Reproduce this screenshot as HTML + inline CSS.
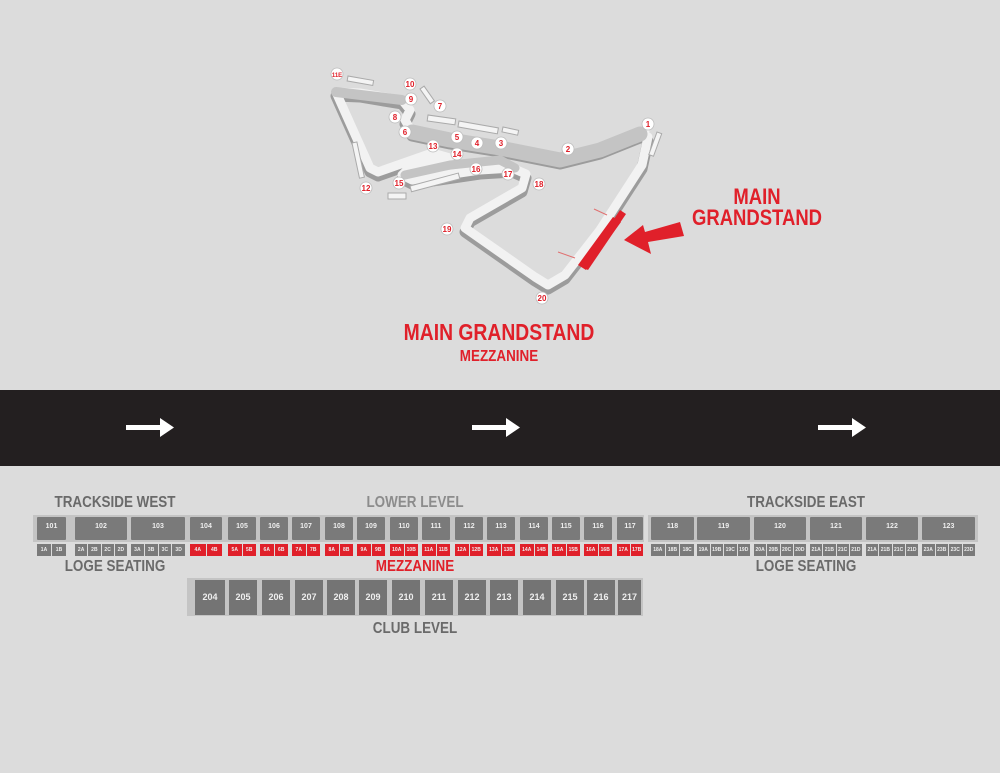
<!DOCTYPE html>
<html><head><meta charset="utf-8"><style>
*{margin:0;padding:0;box-sizing:border-box}
body{width:1000px;height:773px;background:#dcdcdc;position:relative;overflow:hidden;font-family:"Liberation Sans Narrow","Liberation Sans",sans-serif;font-weight:bold}
.a{position:absolute}
.t{position:absolute;white-space:nowrap;transform:translateX(-50%) scaleX(.84);text-align:center}
.b{position:absolute;background:#7a7a7a;color:#eee;font-size:7px;text-align:center;border-radius:1px}
.l{position:absolute;top:544px;height:12px;display:flex;gap:1px}
.l div{flex:1;background:#7a7a7a;color:#eee;font-size:5px;line-height:12px;text-align:center}
.l.r div{background:#e0202a}
.c{position:absolute;top:580px;height:35px;width:28px;background:#747474;color:#eee;font-size:9px;line-height:35px;text-align:center}
</style></head><body>
<svg class="a" style="left:0;top:0" width="1000" height="390">
<g fill="none" stroke-linejoin="round" stroke-linecap="round">
<path d="M648,137 L642,165 L600,230 L565,275 L548,285 L535,277 L465,228 L470,218 L522,188 L526,174 L512,168 L480,170 L412,180 L402,175 L410,167 L450,158 L432,153 L378,172 L370,168 L336,92 L360,93 L402,100 L410,110 L405,120 L412,132 L450,140 L500,148 L560,160 L600,150 L645,132" stroke="#9c9c9c" stroke-width="11" transform="translate(0,4)"/>
<path d="M648,137 L642,165 L600,230 L565,275 L548,285 L535,277 L465,228 L470,218 L522,188 L526,174 L512,168 L480,170 L412,180 L402,175 L410,167 L450,158 L432,153 L378,172 L370,168 L336,92 L360,93 L402,100 L410,110 L405,120 L412,132 L450,140 L500,148 L560,160 L600,150 L645,132" stroke="#f2f2f2" stroke-width="9"/>
<path d="M412,132 L450,140 L500,148 L560,160 L600,150 L640,134" stroke="#c4c4c4" stroke-width="15"/>
<path d="M336,92 L402,100" stroke="#c4c4c4" stroke-width="10"/>
<path d="M405,175 L450,165 L500,160 L515,168" stroke="#c4c4c4" stroke-width="9"/>
</g>
<g fill="#f4f4f4" stroke="#aaa" stroke-width="1">
<rect x="348" y="76" width="26" height="5" transform="rotate(10 348 76)"/>
<rect x="428" y="115" width="28" height="6" transform="rotate(8 428 115)"/>
<rect x="459" y="121" width="40" height="6" transform="rotate(10 459 121)"/>
<rect x="503" y="127" width="16" height="5" transform="rotate(12 503 127)"/>
<rect x="352" y="143" width="5" height="36" transform="rotate(-12 352 143)"/>
<rect x="388" y="193" width="18" height="6"/>
<rect x="410" y="186" width="50" height="6" transform="rotate(-15 410 186)"/>
<rect x="420" y="89" width="5" height="18" transform="rotate(-35 420 89)"/>
<rect x="657" y="132" width="5" height="24" transform="rotate(20 657 132)"/>
</g>
<polygon points="620,210 626,214 588,270 582,267" fill="#e0202a"/>
<polygon points="613,217 621,222 586,270 578,265" fill="#e0202a"/>
<line x1="594" y1="209" x2="607" y2="215" stroke="#e07070"/>
<line x1="558" y1="252" x2="575" y2="258" stroke="#e07070"/>
<polygon points="680,222 684,236 648,242 651,254 624,240 643,225 645,232" fill="#e0202a"/>
<g font-family="Liberation Sans" font-size="8" fill="#e0202a" text-anchor="middle" font-weight="bold">
<g fill="#fff" stroke="#bbb" stroke-width=".8">
<circle cx="337" cy="74" r="6"/><circle cx="410" cy="84" r="6"/><circle cx="411" cy="99" r="6"/><circle cx="440" cy="106" r="6"/><circle cx="395" cy="117" r="6"/><circle cx="405" cy="132" r="6"/><circle cx="457" cy="137" r="6"/><circle cx="477" cy="143" r="6"/><circle cx="501" cy="143" r="6"/><circle cx="568" cy="149" r="6"/><circle cx="648" cy="124" r="6"/><circle cx="433" cy="146" r="6"/><circle cx="457" cy="154" r="6"/><circle cx="476" cy="169" r="6"/><circle cx="508" cy="174" r="6"/><circle cx="539" cy="184" r="6"/><circle cx="399" cy="183" r="6"/><circle cx="366" cy="188" r="6"/><circle cx="447" cy="229" r="6"/><circle cx="542" cy="298" r="6"/>
</g>
<text x="337" y="77" font-size="6">11E</text><text x="410" y="87">10</text><text x="411" y="102">9</text><text x="440" y="109">7</text><text x="395" y="120">8</text><text x="405" y="135">6</text><text x="457" y="140">5</text><text x="477" y="146">4</text><text x="501" y="146">3</text><text x="568" y="152">2</text><text x="648" y="127">1</text><text x="433" y="149">13</text><text x="457" y="157">14</text><text x="476" y="172">16</text><text x="508" y="177">17</text><text x="539" y="187">18</text><text x="399" y="186">15</text><text x="366" y="191">12</text><text x="447" y="232">19</text><text x="542" y="301">20</text>
</g>
</svg>
<div class="t" style="left:757px;top:186px;font-size:22px;line-height:21px;color:#e0202a">MAIN<br>GRANDSTAND</div>
<div class="t" style="left:499px;top:319px;font-size:23px;color:#e0202a">MAIN GRANDSTAND</div>
<div class="t" style="left:499px;top:348px;font-size:16px;color:#e0202a">MEZZANINE</div>
<div class="a" style="left:0;top:390px;width:1000px;height:76px;background:#231f20"></div>
<svg class="a" style="left:0;top:390px" width="1000" height="76"><g fill="#fff">
<polygon points="126,35 160,35 160,28 174,37.5 160,47 160,40 126,40"/>
<polygon points="472,35 506,35 506,28 520,37.5 506,47 506,40 472,40"/>
<polygon points="818,35 852,35 852,28 866,37.5 852,47 852,40 818,40"/></g></svg>
<div class="t" style="left:115px;top:494px;font-size:16px;color:#6a6a6a">TRACKSIDE WEST</div>
<div class="t" style="left:415px;top:494px;font-size:16px;color:#8c8c8c">LOWER LEVEL</div>
<div class="t" style="left:806px;top:494px;font-size:16px;color:#6a6a6a">TRACKSIDE EAST</div>
<div class="t" style="left:115px;top:558px;font-size:16px;color:#6a6a6a">LOGE SEATING</div>
<div class="t" style="left:415px;top:558px;font-size:16px;color:#e0202a">MEZZANINE</div>
<div class="t" style="left:806px;top:558px;font-size:16px;color:#6a6a6a">LOGE SEATING</div>
<div class="t" style="left:415px;top:620px;font-size:16px;color:#6a6a6a">CLUB LEVEL</div>
<div class="a" style="left:33px;top:515px;width:611px;height:27px;background:#c4c4c4"></div>
<div class="a" style="left:648px;top:515px;width:330px;height:27px;background:#c4c4c4"></div>
<div class="a" style="left:187px;top:578px;width:456px;height:38px;background:#c4c4c4"></div>
<div class="b" style="left:37px;top:517px;width:29px;height:23px;line-height:20px">101</div>
<div class="b" style="left:75px;top:517px;width:52px;height:23px;line-height:20px">102</div>
<div class="b" style="left:131px;top:517px;width:54px;height:23px;line-height:20px">103</div>
<div class="b" style="left:190px;top:517px;width:32px;height:23px;line-height:20px">104</div>
<div class="b" style="left:228px;top:517px;width:28px;height:23px;line-height:20px">105</div>
<div class="b" style="left:260px;top:517px;width:28px;height:23px;line-height:20px">106</div>
<div class="b" style="left:292px;top:517px;width:28px;height:23px;line-height:20px">107</div>
<div class="b" style="left:325px;top:517px;width:28px;height:23px;line-height:20px">108</div>
<div class="b" style="left:357px;top:517px;width:28px;height:23px;line-height:20px">109</div>
<div class="b" style="left:390px;top:517px;width:28px;height:23px;line-height:20px">110</div>
<div class="b" style="left:422px;top:517px;width:28px;height:23px;line-height:20px">111</div>
<div class="b" style="left:455px;top:517px;width:28px;height:23px;line-height:20px">112</div>
<div class="b" style="left:487px;top:517px;width:28px;height:23px;line-height:20px">113</div>
<div class="b" style="left:520px;top:517px;width:28px;height:23px;line-height:20px">114</div>
<div class="b" style="left:552px;top:517px;width:28px;height:23px;line-height:20px">115</div>
<div class="b" style="left:584px;top:517px;width:28px;height:23px;line-height:20px">116</div>
<div class="b" style="left:617px;top:517px;width:26px;height:23px;line-height:20px">117</div>
<div class="b" style="left:651px;top:517px;width:43px;height:23px;line-height:20px">118</div>
<div class="b" style="left:697px;top:517px;width:53px;height:23px;line-height:20px">119</div>
<div class="b" style="left:754px;top:517px;width:52px;height:23px;line-height:20px">120</div>
<div class="b" style="left:810px;top:517px;width:52px;height:23px;line-height:20px">121</div>
<div class="b" style="left:866px;top:517px;width:52px;height:23px;line-height:20px">122</div>
<div class="b" style="left:922px;top:517px;width:53px;height:23px;line-height:20px">123</div>
<div class="l" style="left:37px;width:29px"><div>1A</div><div>1B</div></div>
<div class="l" style="left:75px;width:52px"><div>2A</div><div>2B</div><div>2C</div><div>2D</div></div>
<div class="l" style="left:131px;width:54px"><div>3A</div><div>3B</div><div>3C</div><div>3D</div></div>
<div class="l r" style="left:190px;width:32px"><div>4A</div><div>4B</div></div>
<div class="l r" style="left:228px;width:28px"><div>5A</div><div>5B</div></div>
<div class="l r" style="left:260px;width:28px"><div>6A</div><div>6B</div></div>
<div class="l r" style="left:292px;width:28px"><div>7A</div><div>7B</div></div>
<div class="l r" style="left:325px;width:28px"><div>8A</div><div>8B</div></div>
<div class="l r" style="left:357px;width:28px"><div>9A</div><div>9B</div></div>
<div class="l r" style="left:390px;width:28px"><div>10A</div><div>10B</div></div>
<div class="l r" style="left:422px;width:28px"><div>11A</div><div>11B</div></div>
<div class="l r" style="left:455px;width:28px"><div>12A</div><div>12B</div></div>
<div class="l r" style="left:487px;width:28px"><div>13A</div><div>13B</div></div>
<div class="l r" style="left:520px;width:28px"><div>14A</div><div>14B</div></div>
<div class="l r" style="left:552px;width:28px"><div>15A</div><div>15B</div></div>
<div class="l r" style="left:584px;width:28px"><div>16A</div><div>16B</div></div>
<div class="l r" style="left:617px;width:26px"><div>17A</div><div>17B</div></div>
<div class="l" style="left:651px;width:43px"><div>18A</div><div>18B</div><div>18C</div></div>
<div class="l" style="left:697px;width:53px"><div>19A</div><div>19B</div><div>19C</div><div>19D</div></div>
<div class="l" style="left:754px;width:52px"><div>20A</div><div>20B</div><div>20C</div><div>20D</div></div>
<div class="l" style="left:810px;width:52px"><div>21A</div><div>21B</div><div>21C</div><div>21D</div></div>
<div class="l" style="left:866px;width:52px"><div>21A</div><div>21B</div><div>21C</div><div>21D</div></div>
<div class="l" style="left:922px;width:53px"><div>23A</div><div>23B</div><div>23C</div><div>23D</div></div>
<div class="c" style="left:195px;width:30px">204</div>
<div class="c" style="left:229px">205</div>
<div class="c" style="left:262px">206</div>
<div class="c" style="left:295px">207</div>
<div class="c" style="left:327px">208</div>
<div class="c" style="left:359px">209</div>
<div class="c" style="left:392px">210</div>
<div class="c" style="left:425px">211</div>
<div class="c" style="left:458px">212</div>
<div class="c" style="left:490px">213</div>
<div class="c" style="left:523px">214</div>
<div class="c" style="left:556px">215</div>
<div class="c" style="left:587px">216</div>
<div class="c" style="left:618px;width:23px">217</div>
</body></html>
